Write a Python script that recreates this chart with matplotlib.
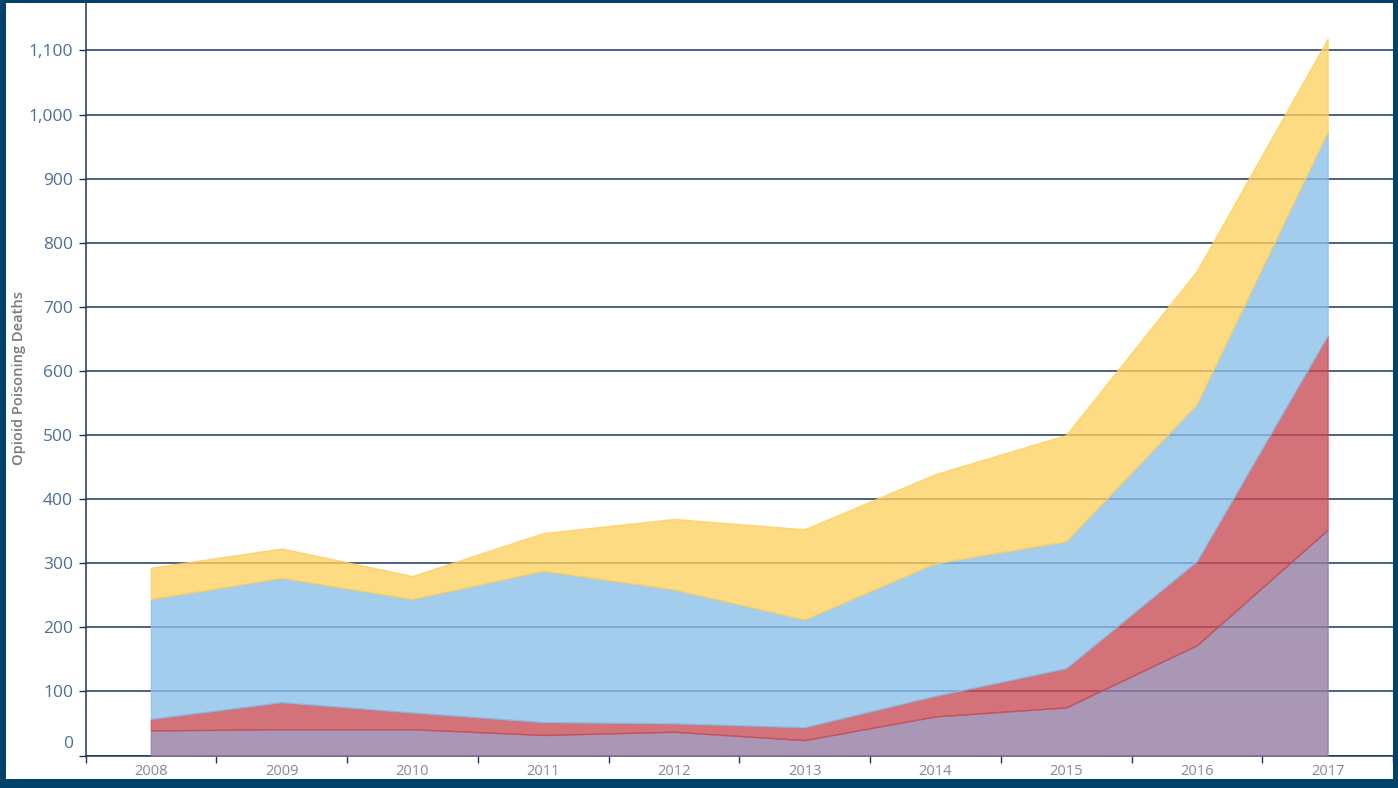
import matplotlib
matplotlib.use("Agg")
import matplotlib.pyplot as plt
from matplotlib.patches import Rectangle
from matplotlib.transforms import ScaledTranslation
from matplotlib.ticker import FuncFormatter, MultipleLocator, FixedLocator
import numpy as np

# ---- data ----
years = ["2008", "2009", "2010", "2011", "2012", "2013", "2014", "2015", "2016", "2017"]
series_a = [39, 41, 41, 32, 37, 24, 61, 75, 172, 352]      # purple (bottom)
series_b = [18, 42, 26, 20, 13, 20, 32, 61, 131, 303]      # red
series_c = [187, 194, 177, 236, 209, 168, 207, 198, 245, 318]  # blue
series_d = [49, 46, 36, 59, 110, 141, 139, 166, 208, 145]  # yellow (top)
y_title = "Opioid Poisoning Deaths"

colors = ["#937aa0", "#c84b53", "#89bfe9", "#fdd160"]
ALPHA = 0.78

W, H = 1398, 788
fig = plt.figure(figsize=(W / 100, H / 100), dpi=100)
fig.patch.set_facecolor("#00426a")
fig.patches.append(Rectangle((6 / W, (H - 779) / H), (1393 - 6) / W, (779 - 3) / H,
                             transform=fig.transFigure, facecolor="white",
                             edgecolor="none", zorder=-10))

ax = fig.add_axes([85.5 / W, (H - 755.5) / H, (1393 - 85.5) / W, (755.5 - 3) / H])
ax.set_zorder(1)
ax.set_facecolor("white")

x = np.arange(len(years))
layers = [series_a, series_b, series_c, series_d]
bottom = np.zeros(len(years))
for vals, col in zip(layers, colors):
    top = bottom + np.array(vals, dtype=float)
    ax.fill_between(x, bottom, top, facecolor=col, edgecolor=col, linewidth=1.0,
                    alpha=ALPHA, zorder=3)
    bottom = top

ax.set_xlim(-0.5, len(years) - 0.5)
ax.set_ylim(0, 1174)

# grid
ax.yaxis.set_major_locator(MultipleLocator(100))
ax.grid(axis="y", color="#1e3560", linewidth=1.1, zorder=1)
ax.grid(axis="x", visible=False)
ax.set_axisbelow(True)

ax.yaxis.set_major_formatter(FuncFormatter(lambda v, p: f"{int(v):,}"))
ax.tick_params(axis="y", colors="#1e3560", length=5, width=1, labelsize=12.5,
               labelcolor="#4d6f96", pad=4)
for lab in ax.get_yticklabels():
    lab.set_fontfamily("Open Sans")

# x ticks: labels at centers, tick marks at band boundaries
ax.set_xticks(x)
ax.set_xticklabels(years, fontsize=10.5, color="#8a8a8a", fontfamily="Open Sans")
ax.tick_params(axis="x", which="major", length=0, pad=6)
ax.xaxis.set_minor_locator(FixedLocator(np.arange(-0.5, len(years), 1.0)))
ax.tick_params(axis="x", which="minor", length=5, width=1, color="#1e3560")

for s in ["top", "right"]:
    ax.spines[s].set_visible(False)
ax.spines["left"].set_color("#1e3560")
ax.spines["bottom"].set_color("#1e3560")
ax.spines["left"].set_linewidth(1.1)
ax.spines["bottom"].set_linewidth(1.1)

fig.canvas.draw()
# lift the "0" label like the reference
for lab in ax.get_yticklabels():
    if lab.get_text() == "0":
        lab.set_transform(lab.get_transform() + ScaledTranslation(0, 13 / 100, fig.dpi_scale_trans))

fig.text(19 / W, 1 - 378 / H, y_title, rotation=90, ha="center", va="center",
         fontsize=10.5, color="#7a7a7a", fontfamily="Open Sans", fontweight="semibold")

fig.savefig("out.png", dpi=100, facecolor=fig.get_facecolor())
